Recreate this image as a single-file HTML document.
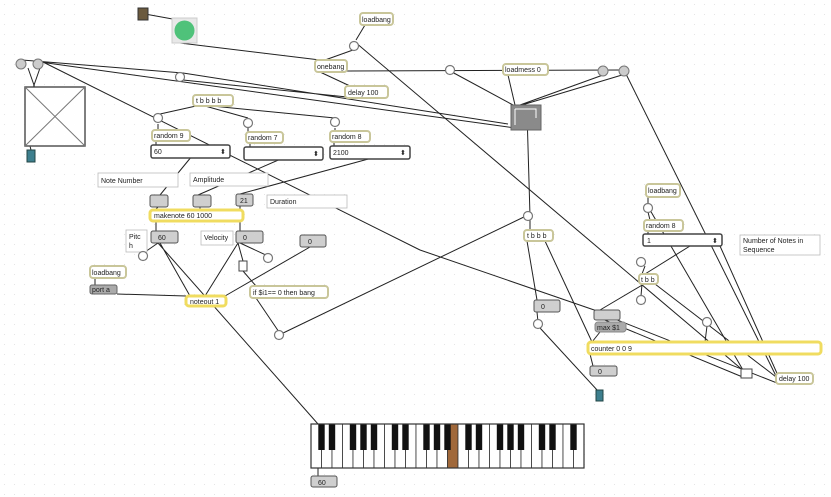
<!DOCTYPE html>
<html><head><meta charset="utf-8"><style>
html,body{margin:0;padding:0;background:#fff;}
svg{display:block;font-family:"Liberation Sans",sans-serif;}
.o{fill:#fff;stroke:#c9c69a;stroke-width:2;}
.n{fill:#cfcfcf;stroke:#555;stroke-width:1;}
.c{fill:#fff;stroke:#bbb;stroke-width:0.8;}
.y{fill:#fff;stroke:#f0dc60;stroke-width:3;}
.b{fill:#fff;stroke:#777;stroke-width:1.2;}
t,text{font-size:7px;fill:#222;}
.l{stroke:#222;stroke-width:1;fill:none;}
</style></head><body>
<svg width="831" height="497" viewBox="0 0 831 497" xmlns="http://www.w3.org/2000/svg">
<defs><pattern id="g" width="10" height="10" patternUnits="userSpaceOnUse"><rect x="4" y="4" width="1" height="1" fill="#e4e4e4"/></pattern></defs>
<rect width="831" height="497" fill="url(#g)"/>
<!-- lines -->
<g class="l">
<path d="M145 14L178 20M180 43L320 60M365 25L356 40M353 50L325 60M355 42L745 372"/>
<path d="M40 62L515 128M22 60L183 73M183 73L508 124M347 97L183 80M347 71L622 70M320 72L350 86"/>
<path d="M43 62L420 250M420 250L600 312M28 68L35 88M40 68L33 88M30 146L31 150"/>
<path d="M196 106L160 114M205 106L248 118M212 106L335 118M158 124L158 130M248 128L248 132M335 128L335 131M156 141L156 145M250 143L250 147M334 142L334 146"/>
<path d="M192 156L160 195M283 158L198 195M372 158L240 194M158 207L155 210M200 207L200 210M240 206L240 210M156 221L156 231M240 221L240 231"/>
<path d="M452 72L513 105M508 75L515 105M603 75L520 105M622 75L522 105M527 112L530 216"/>
<path d="M625 72L778 380M279 335L528 215M530 220L530 230M527 241L537 300M545 241L592 342"/>
<path d="M537 312L538 322M540 328L598 391M648 197L648 204M648 212L650 220M650 210L743 370M648 231L648 234"/>
<path d="M690 246L645 274M645 266L642 274M644 284L600 310M655 284L780 380M642 284L641 296M707 326L705 342M590 354L593 366M597 312L777 383M745 378L600 318"/>
<path d="M158 243L318 424M160 243L190 296M238 243L205 296M238 243L243 261M240 243L268 256M310 247L225 296M117 294L186 296M243 271L256 286M256 298L279 332M95 278L95 285M158 243L145 252M318 468L318 476"/>
<path d="M720 246L780 380M600 332L592 342"/>
</g>
<!-- top left -->
<rect x="138" y="8" width="10" height="12" fill="#6b5a3e" stroke="#333"/>
<rect x="172" y="18" width="25" height="25" fill="#e8e8e8" stroke="#ccc"/>
<circle cx="184.5" cy="30.5" r="10" fill="#4fc27a"/>
<rect x="360" y="13" width="33" height="12" rx="3" class="o"/><text x="362" y="22">loadbang</text>
<circle cx="354" cy="46" r="4.5" class="b"/>
<rect x="315" y="60" width="32" height="12" rx="3" class="o"/><text x="317" y="69">onebang</text>
<rect x="345" y="86" width="43" height="12" rx="3" class="o"/><text x="348" y="95">delay 100</text>
<circle cx="21" cy="64" r="5" fill="#ccc" stroke="#777"/><circle cx="38" cy="64" r="5" fill="#ccc" stroke="#777"/>
<rect x="25" y="87" width="60" height="59" fill="#fff" stroke="#555" stroke-width="1.5"/>
<path d="M25 87L85 146M85 87L25 146" stroke="#777" stroke-width="1"/>
<rect x="27" y="150" width="8" height="12" fill="#3d7f8e" stroke="#244"/>
<circle cx="180" cy="77" r="4.5" class="b"/>
<rect x="193" y="95" width="40" height="11" rx="3" class="o"/><text x="196" y="103">t b b b b</text>
<circle cx="158" cy="118" r="4.5" class="b"/><circle cx="248" cy="123" r="4.5" class="b"/><circle cx="335" cy="122" r="4.5" class="b"/>
<rect x="152" y="130" width="38" height="11" rx="3" class="o"/><text x="154" y="138">random 9</text>
<rect x="246" y="132" width="37" height="11" rx="3" class="o"/><text x="248" y="140">random 7</text>
<rect x="330" y="131" width="40" height="11" rx="3" class="o"/><text x="332" y="139">random 8</text>
<rect x="151" y="145" width="79" height="13" rx="2" fill="#fff" stroke="#444" stroke-width="1.5"/><text x="154" y="154">60</text><text x="220" y="154">⬍</text>
<rect x="244" y="147" width="79" height="13" rx="2" fill="#fff" stroke="#444" stroke-width="1.5"/><text x="313" y="156">⬍</text>
<rect x="330" y="146" width="80" height="13" rx="2" fill="#fff" stroke="#444" stroke-width="1.5"/><text x="333" y="155">2100</text><text x="400" y="155">⬍</text>
<rect x="98" y="173" width="80" height="14" class="c"/><text x="101" y="183">Note Number</text>
<rect x="190" y="173" width="78" height="13" class="c"/><text x="193" y="182">Amplitude</text>
<rect x="150" y="195" width="18" height="12" rx="2" class="n"/><rect x="193" y="195" width="18" height="12" rx="2" class="n"/>
<rect x="236" y="194" width="17" height="12" rx="2" class="n"/><text x="240" y="203">21</text>
<rect x="267" y="195" width="80" height="13" class="c"/><text x="270" y="204">Duration</text>
<rect x="150" y="210" width="93" height="11" rx="3" class="y"/><text x="154" y="218">makenote 60 1000</text>
<rect x="126" y="230" width="21" height="22" class="c"/><text x="129" y="239">Pitc</text><text x="129" y="248">h</text>
<rect x="151" y="231" width="27" height="12" rx="2" class="n"/><text x="158" y="240">60</text>
<rect x="201" y="231" width="32" height="14" class="c"/><text x="204" y="240">Velocity</text>
<rect x="236" y="231" width="27" height="12" rx="2" class="n"/><text x="243" y="240">0</text>
<rect x="300" y="235" width="26" height="12" rx="2" class="n"/><text x="308" y="244">0</text>
<circle cx="143" cy="256" r="4.5" class="b"/><circle cx="268" cy="258" r="4.5" class="b"/>
<rect x="239" y="261" width="8" height="10" fill="#fff" stroke="#444"/>
<rect x="90" y="266" width="36" height="12" rx="3" class="o"/><text x="92" y="275">loadbang</text>
<rect x="90" y="285" width="27" height="9" rx="2" fill="#aaa" stroke="#666"/><text x="92" y="292">port a</text>
<rect x="186" y="296" width="40" height="10" rx="3" class="y"/><text x="190" y="304">noteout 1</text>
<rect x="250" y="286" width="78" height="12" rx="3" class="o"/><text x="253" y="295">if $i1== 0 then bang</text>
<circle cx="279" cy="335" r="4.5" class="b"/>
<!-- keyboard -->
<g id="kb"></g>
<rect x="311" y="476" width="26" height="11" rx="2" class="n"/><text x="318" y="485">60</text>
<!-- right -->
<circle cx="450" cy="70" r="4.5" class="b"/>
<rect x="503" y="64" width="45" height="11" rx="3" class="o"/><text x="505" y="72">loadmess 0</text>
<circle cx="603" cy="71" r="5" fill="#ccc" stroke="#777"/><circle cx="624" cy="71" r="5" fill="#ccc" stroke="#777"/>
<rect x="511" y="105" width="30" height="25" fill="#8a8a8a" stroke="#666"/>
<path d="M515 109H536V118M515 109V125" stroke="#fff" stroke-width="1" fill="none"/>
<circle cx="528" cy="216" r="4.5" class="b"/>
<rect x="524" y="230" width="29" height="11" rx="3" class="o"/><text x="527" y="238">t b b b</text>
<rect x="646" y="184" width="34" height="13" rx="3" class="o"/><text x="648" y="193">loadbang</text>
<circle cx="648" cy="208" r="4.5" class="b"/>
<rect x="644" y="220" width="39" height="11" rx="3" class="o"/><text x="646" y="228">random 8</text>
<rect x="643" y="234" width="79" height="12" rx="2" fill="#fff" stroke="#444" stroke-width="1.5"/><text x="647" y="243">1</text><text x="712" y="243">⬍</text>
<rect x="740" y="235" width="80" height="20" class="c"/><text x="743" y="243">Number of Notes in</text><text x="743" y="252">Sequence</text>
<circle cx="641" cy="262" r="4.5" class="b"/>
<rect x="639" y="274" width="19" height="10" rx="3" class="o"/><text x="641" y="282">t b b</text>
<circle cx="641" cy="300" r="4.5" class="b"/>
<rect x="534" y="300" width="26" height="12" rx="2" class="n"/><text x="541" y="309">0</text>
<circle cx="538" cy="324" r="4.5" class="b"/>
<rect x="594" y="310" width="26" height="10" rx="2" class="n"/>
<rect x="595" y="322" width="31" height="10" rx="3" fill="#aaa" stroke="#888"/><text x="597" y="330">max $1</text>
<circle cx="707" cy="322" r="4.5" class="b"/>
<rect x="588" y="342" width="233" height="12" rx="3" class="y"/><text x="591" y="351">counter 0 0 9</text>
<rect x="590" y="366" width="27" height="10" rx="2" class="n"/><text x="598" y="374">0</text>
<rect x="596" y="390" width="7" height="11" fill="#3d7f8e" stroke="#244"/>
<rect x="741" y="369" width="11" height="9" fill="#fff" stroke="#444"/>
<rect x="776" y="373" width="37" height="11" rx="3" class="o"/><text x="779" y="381">delay 100</text>
</svg>
<script>
(function(){var g=document.getElementById('kb'),ns='http://www.w3.org/2000/svg',x0=311,w=10.5,n=26,s='';
for(var i=0;i<n;i++){var x=x0+i*w;s+='<rect x="'+x+'" y="424" width="'+w+'" height="44" fill="'+(i==13?'#a0683a':'#fff')+'" stroke="#333" stroke-width="0.8"/>';}
var pat=[1,1,0,1,1,1,0];for(var i=0;i<n-1;i++){if(pat[i%7]){var x=x0+(i+1)*w-3.2;s+='<rect x="'+x+'" y="424" width="6.4" height="26" fill="#111"/>';}}
s+='<rect x="311" y="424" width="273" height="44" fill="none" stroke="#333" stroke-width="1.2"/>';
g.innerHTML=s;})();
</script>
</body></html>
